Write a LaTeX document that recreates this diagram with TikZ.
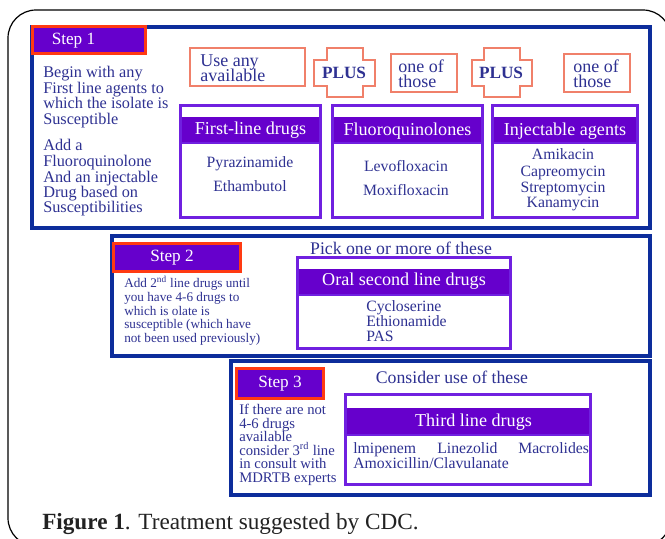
\documentclass[tikz,border=0pt]{standalone}
\usepackage{fontspec}
\setmainfont{Liberation Serif}
\definecolor{blueframe}{HTML}{0D2D9B}
\definecolor{purplefill}{HTML}{6600CC}
\definecolor{purpleline}{HTML}{7020E0}
\definecolor{redlabel}{HTML}{FF3A12}
\definecolor{orangeline}{HTML}{F0806A}
\definecolor{txtblue}{HTML}{2E3192}
\definecolor{captxt}{HTML}{222222}
\newcommand{\fsz}[2]{\fontsize{#1}{#2}\selectfont}
\begin{document}
\begin{tikzpicture}[x=0.75pt,y=-0.75pt,
  txt/.style={text=txtblue, inner sep=0pt, anchor=base west},
  ctxt/.style={text=txtblue, inner sep=0pt, anchor=base},
  wtxt/.style={text=white, inner sep=0pt, anchor=base},
  bframe/.style={draw=blueframe, line width=2.6pt},
  steplab/.style={fill=purplefill, draw=redlabel, line width=2.2pt},
  catbox/.style={draw=purpleline, line width=2.2pt},
  headband/.style={fill=purplefill},
  obox/.style={draw=orangeline, line width=1.1pt, fill=white},
  s1font/.style={font=\fsz{12.2pt}{12pt}},
  s2font/.style={font=\fsz{9.9pt}{10pt}},
  s3font/.style={font=\fsz{11pt}{11pt}},
  hfont/.style={font=\fsz{13.6pt}{14pt}},
  bfont/.style={font=\fsz{11.8pt}{12pt}},
  stfont/.style={font=\fsz{12.9pt}{13pt}},
  lfont/.style={font=\fsz{13.3pt}{13pt}},
  ofont/.style={font=\fsz{13.5pt}{14pt}}
]
\useasboundingbox (0,0) rectangle (665,539);
\clip (0,0) rectangle (665,539);
\fill[white] (0,0) rectangle (665,539);
\draw[black, line width=0.9pt, rounded corners=21pt] (8,10) rectangle (671,546);

% ---------- Step 1 ----------
\draw[bframe] (32,27) rectangle (650,228);
\draw[steplab] (32.5,26.5) rectangle (145.5,53.5);
\node[wtxt, stfont] (st1) at (73.5,44) {Step 1};

\node[txt, s1font] (a1) at (43,77) {Begin with any};
\node[txt, s1font] (a2) at (43,93) {First line agents to};
\node[txt, s1font] (a3) at (43,108) {which the isolate is};
\node[txt, s1font] (a4) at (43,124) {Susceptible};
\node[txt, s1font] (a5) at (43,150) {Add a};
\node[txt, s1font] (a6) at (43,166) {Fluoroquinolone};
\node[txt, s1font] (a7) at (43,182) {And an injectable};
\node[txt, s1font] (a8) at (43,197) {Drug based on};
\node[txt, s1font] (a9) at (43,212) {Susceptibilities};

% top row boxes
\draw[obox] (190,48) rectangle (305,86);
\node[txt, ofont] (use1) at (200,66) {Use any};
\node[txt, ofont] (use2) at (200,81) {available};

\draw[obox] (327,48) -- (363,48) -- (363,60) -- (375,60) -- (375,86) -- (363,86) -- (363,97) -- (327,97) -- (327,86) -- (314,86) -- (314,60) -- (327,60) -- cycle;
\node[ctxt, font=\fsz{12.9pt}{13pt}\bfseries] (plus1) at (344,78) {PLUS};

\draw[obox] (391,54) rectangle (457,92);
\node[txt, ofont] (one1) at (398,72) {one of};
\node[txt, ofont] (those1) at (398,87) {those};

\draw[obox] (484,48) -- (520,48) -- (520,60) -- (532,60) -- (532,86) -- (520,86) -- (520,97) -- (484,97) -- (484,86) -- (472,86) -- (472,60) -- (484,60) -- cycle;
\node[ctxt, font=\fsz{12.9pt}{13pt}\bfseries] (plus2) at (501,78) {PLUS};

\draw[obox] (564,54) rectangle (630,92);
\node[txt, ofont] (one2) at (573,72) {one of};
\node[txt, ofont] (those2) at (573,87) {those};

% category boxes
\fill[headband] (180,117) rectangle (321,143);
\draw[catbox] (180.5,105.5) rectangle (320.5,217.5);
\draw[purpleline, line width=0.8pt] (180,143) -- (321,143);
\node[wtxt, hfont] (h1) at (250.5,134) {First-line drugs};
\node[ctxt, bfont] (b11) at (250,167) {Pyrazinamide};
\node[ctxt, bfont] (b12) at (250,191) {Ethambutol};

\fill[headband] (332,117) rectangle (483,143);
\draw[catbox] (332.5,105.5) rectangle (482.5,217.5);
\draw[purpleline, line width=0.8pt] (332,143) -- (483,143);
\node[wtxt, hfont] (h2) at (407.5,135) {Fluoroquinolones};
\node[ctxt, bfont] (b21) at (406,171) {Levofloxacin};
\node[ctxt, bfont] (b22) at (406,195) {Moxifloxacin};

\fill[headband] (492,117) rectangle (638,143);
\draw[catbox] (492.5,105.5) rectangle (637.5,217.5);
\draw[purpleline, line width=0.8pt] (492,143) -- (638,143);
\node[wtxt, hfont] (h3) at (565,135) {Injectable agents};
\node[ctxt, bfont] (b31) at (563,159) {Amikacin};
\node[ctxt, bfont] (b32) at (563,176) {Capreomycin};
\node[ctxt, bfont] (b33) at (563,192) {Streptomycin};
\node[ctxt, bfont] (b34) at (563,207) {Kanamycin};

% ---------- Step 2 ----------
\draw[bframe] (112,236) rectangle (650,356);
\draw[steplab] (113.5,243.5) rectangle (240.5,271.5);
\node[wtxt, stfont] (st2) at (172,261) {Step 2};

\node[txt, s2font] (c1) at (124,287) {Add 2\textsuperscript{nd} line drugs until};
\node[txt, s2font] (c2) at (124,301) {you have 4-6 drugs to};
\node[txt, s2font] (c3) at (124,315) {which is olate is};
\node[txt, s2font] (c4) at (124,328) {susceptible (which have};
\node[txt, s2font] (c5) at (124,342) {not been used previously)};

\node[ctxt, lfont] (pick) at (401,254) {Pick one or more of these};
\fill[headband] (297,269) rectangle (511,295);
\draw[catbox] (297.5,257.5) rectangle (510.5,348.5);
\draw[purpleline, line width=0.8pt] (297,295) -- (511,295);
\node[wtxt, hfont] (h4) at (404,285) {Oral second line drugs};
\node[txt, bfont] (d1) at (366,311) {Cycloserine};
\node[txt, bfont] (d2) at (366,326) {Ethionamide};
\node[txt, bfont] (d3) at (366,341) {PAS};

% ---------- Step 3 ----------
\draw[bframe] (231,361) rectangle (650,495);
\draw[steplab] (236.5,368.5) rectangle (323.5,398.5);
\node[wtxt, stfont] (st3) at (280,387) {Step 3};

\node[txt, s3font] (e1) at (239,414) {If there are not};
\node[txt, s3font] (e2) at (239,428) {4-6 drugs};
\node[txt, s3font] (e3) at (239,441) {available};
\node[txt, s3font] (e4) at (239,455) {consider 3\textsuperscript{rd} line};
\node[txt, s3font] (e5) at (239,468) {in consult with};
\node[txt, s3font] (e6) at (239,482) {MDRTB experts};

\node[ctxt, lfont] (cons) at (452,383) {Consider use of these};
\fill[headband] (345,408) rectangle (591,435);
\draw[catbox] (345.5,394.5) rectangle (590.5,484.5);
\draw[purpleline, line width=0.8pt] (345,435) -- (591,435);
\node[wtxt, hfont] (h5) at (473.5,426) {Third line drugs};
\node[txt, bfont] (f1) at (353,453) {lmipenem};
\node[txt, bfont] (f2) at (437,453) {Linezolid};
\node[txt, bfont] (f3) at (518,453) {Macrolides};
\node[txt, bfont] (f4) at (353,468) {Amoxicillin/Clavulanate};

% ---------- Caption ----------
\node[text=captxt, inner sep=0pt, anchor=base west, font=\fsz{17.4pt}{18pt}] (cap) at (42,529) {\textbf{Figure 1}. Treatment suggested by CDC.};
\end{tikzpicture}
\end{document}
